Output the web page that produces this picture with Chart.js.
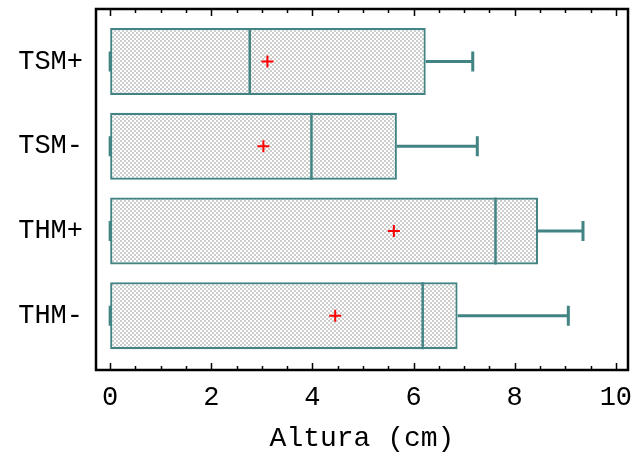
<!DOCTYPE html>
<html>
<head>
<meta charset="utf-8">
<script src="https://cdn.jsdelivr.net/npm/chart.js@4/dist/chart.umd.min.js"></script>
<style>
  body { margin: 0; background: #fff; }
  canvas { display: block; }
</style>
</head>
<body>
<canvas id="boxChart" width="636" height="453"></canvas>
<script>
// groups from top to bottom
var groups = ['TSM+', 'TSM-', 'THM+', 'THM-'];
var rowPos = [4, 3, 2, 1];

var minVals = [0, 0, 0, 0];
var q1Vals = [0, 0, 0, 0];
var medianVals = [2.76, 3.98, 7.62, 6.18];
var q3Vals = [6.24, 5.67, 8.46, 6.87];
var maxVals = [7.17, 7.26, 9.35, 9.06];
var meanVals = [3.11, 3.03, 5.61, 4.45];

var xTicks = [0, 2, 4, 6, 8, 10];

var boxColor = '#428484';
var monoFont = "'Liberation Mono', 'Courier New', monospace";

// little checkered fill for the boxes
function checkerPattern(ctx){
  var c = document.createElement('canvas');
  c.width = 4; c.height = 4;
  var p = c.getContext('2d');
  p.fillStyle = '#ffffff';
  p.fillRect(0, 0, 4, 4);
  p.fillStyle = '#cdcdcd';
  p.fillRect(0, 0, 2, 2);
  p.fillRect(2, 2, 2, 2);
  return ctx.createPattern(c, 'repeat');
}

var ctx = document.getElementById('boxChart').getContext('2d');

var boxData = [];
var meanData = [];
for(var i = 0; i < groups.length; i++){
  boxData.push({x: [q1Vals[i], q3Vals[i]], y: rowPos[i]});
  meanData.push({x: meanVals[i], y: rowPos[i]});
}

// medians, whiskers, frame and ticks
var boxExtras = {
  id: 'boxExtras',
  afterDatasetDraw: function(chart, args){
    if(args.index !== 0) return;
    var c = chart.ctx;
    var xs = chart.scales.x, ys = chart.scales.y;
    var meta = chart.getDatasetMeta(0);
    c.save();
    c.strokeStyle = boxColor;
    for(var i = 0; i < groups.length; i++){
      var yc = ys.getPixelForValue(rowPos[i]);
      var half = meta.data[i].height / 2;
      // median
      c.lineWidth = 2.5;
      var xm = xs.getPixelForValue(medianVals[i]);
      c.beginPath();
      c.moveTo(xm, yc - half);
      c.lineTo(xm, yc + half);
      c.stroke();
      // whiskers
      var cap = 10;
      var xq3 = xs.getPixelForValue(q3Vals[i]);
      var xmax = xs.getPixelForValue(maxVals[i]);
      var xq1 = xs.getPixelForValue(q1Vals[i]);
      var xmin = xs.getPixelForValue(minVals[i]);
      c.lineWidth = 3;
      c.beginPath();
      c.moveTo(xq3, yc); c.lineTo(xmax, yc);
      c.moveTo(xmax, yc - cap); c.lineTo(xmax, yc + cap);
      c.moveTo(xq1, yc); c.lineTo(xmin, yc);
      c.moveTo(xmin, yc - cap); c.lineTo(xmin, yc + cap);
      c.stroke();
    }
    c.restore();
  },
  afterDraw: function(chart){
    var c = chart.ctx;
    var a = chart.chartArea;
    var xs = chart.scales.x;
    c.save();
    c.strokeStyle = '#000';
    c.lineWidth = 1.5;
    for(var v = 0; v <= 10.001; v += 0.5){
      var px = Math.round(xs.getPixelForValue(v)) + 0.5;
      var len = (Math.abs(v % 2) < 0.001) ? 7 : 4;
      c.beginPath();
      c.moveTo(px, a.top); c.lineTo(px, a.top + len);
      c.moveTo(px, a.bottom); c.lineTo(px, a.bottom - len);
      c.stroke();
    }
    c.lineWidth = 2.5;
    c.strokeRect(a.left, a.top, a.right - a.left, a.bottom - a.top);
    c.restore();
  }
};

var boxChart = new Chart(ctx, {
  type: 'bar',
  data: {
    datasets: [{
      type: 'bar',
      indexAxis: 'y',
      data: boxData,
      backgroundColor: checkerPattern(ctx),
      borderColor: boxColor,
      borderWidth: 2.2,
      borderSkipped: false,
      barPercentage: 0.79,
      categoryPercentage: 1,
      order: 2
    }, {
      type: 'scatter',
      data: meanData,
      pointStyle: 'cross',
      radius: 6,
      borderColor: '#ff0000',
      borderWidth: 2,
      order: 1
    }]
  },
  options: {
    responsive: false,
    animation: false,
    events: [],
    layout: { padding: { top: 9, right: 6, left: 0, bottom: 0 } },
    plugins: {
      legend: { display: false },
      tooltip: { enabled: false }
    },
    scales: {
      x: {
        type: 'linear',
        position: 'bottom',
        offset: false,
        min: -0.28,
        max: 10.24,
        grid: { display: false, drawTicks: false, offset: false },
        border: { display: false },
        afterBuildTicks: function(scale){
          scale.ticks = xTicks.map(function(v){ return {value: v}; });
        },
        afterFit: function(scale){
          scale.height = 83;
          scale.paddingLeft = 0;
          scale.paddingRight = 0;
        },
        ticks: {
          padding: 12,
          color: '#000',
          maxRotation: 0,
          font: { family: monoFont, size: 27 }
        },
        title: {
          display: true,
          text: 'Altura (cm)',
          color: '#000',
          padding: { top: 0, bottom: -2 },
          font: { family: monoFont, size: 28 }
        }
      },
      y: {
        type: 'linear',
        position: 'left',
        offset: false,
        min: 0.36,
        max: 4.62,
        grid: { display: false, drawTicks: false, offset: false },
        border: { display: false },
        afterBuildTicks: function(scale){
          scale.ticks = rowPos.map(function(v){ return {value: v}; });
        },
        afterFit: function(scale){
          scale.width = 96;
          scale.paddingTop = 0;
          scale.paddingBottom = 0;
        },
        ticks: {
          padding: 13,
          color: '#000',
          font: { family: monoFont, size: 27 },
          callback: function(v){ return groups[rowPos.indexOf(v)]; }
        }
      }
    }
  },
  plugins: [boxExtras]
});
</script>
</body>
</html>
